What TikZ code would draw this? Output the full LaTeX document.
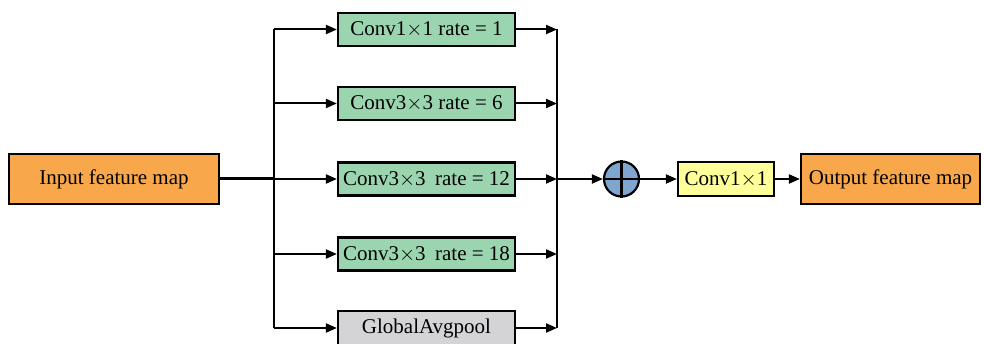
\documentclass[tikz,border=0pt]{standalone}
\usepackage{fontspec}
\setmainfont{Liberation Serif}
\usetikzlibrary{arrows.meta}
\definecolor{featorange}{HTML}{F9A74B}
\definecolor{convgreen}{HTML}{9BD5AF}
\definecolor{poolgray}{HTML}{D4D4D6}
\definecolor{mixyellow}{HTML}{FFFF99}
\definecolor{sumblue}{HTML}{7FA6CE}
\newcommand{\widegap}{\hspace{0.45em}}
\newcommand{\kx}{\ensuremath{\times}}
\begin{document}
\begin{tikzpicture}[x=1pt,y=-1pt,
  every node/.style={font=\fontsize{21}{25}\selectfont, inner sep=0pt},
  boxbase/.style={draw=black, line width=2.2pt, anchor=center},
  featbox/.style={boxbase, fill=featorange, minimum width=210pt, minimum height=50pt},
  branchbox/.style={boxbase, fill=convgreen, minimum width=177pt, minimum height=33pt},
  poolbox/.style={boxbase, fill=poolgray, minimum width=177pt, minimum height=34pt},
  mixbox/.style={boxbase, fill=mixyellow, minimum width=96pt, minimum height=34pt},
  sumnode/.style={draw=black, line width=2.2pt, fill=sumblue, circle, minimum size=35pt},
  link/.style={line width=2pt},
  flow/.style={link, -{Triangle[length=11pt,width=9pt]}}
]
\useasboundingbox (0,0) rectangle (984,344);

% input and output feature maps
\node[featbox] (in) at (114,179) {Input feature map};
\node[featbox, minimum width=179pt] (out) at (890.5,179) {Output feature map};

% parallel branches
\node[branchbox] (b1) at (426.5,29.5) {Conv1\kx1 rate = 1};
\node[branchbox] (b2) at (426.5,103.5) {Conv3\kx3 rate = 6};
\node[branchbox] (b3) at (426.5,179) {Conv3\kx3\widegap rate = 12};
\node[branchbox] (b4) at (426.5,254) {Conv3\kx3\widegap rate = 18};
\node[poolbox] (b5) at (426.5,328) {GlobalAvgpool};

% fusion
\node[sumnode] (sum) at (621.5,179) {};
\draw[line width=2.2pt] (sum.north) -- (sum.south) (sum.west) -- (sum.east);
\node[mixbox] (mix) at (726,179) {Conv1\kx1};

% distribution trunk
\coordinate (t1) at (274,29.5);
\coordinate (t2) at (274,103.5);
\coordinate (t3) at (274,179);
\coordinate (t4) at (274,254);
\coordinate (t5) at (274,328);
\draw[line width=3pt] (in.east) -- (t3);
\draw[link] (t1) -- (t5);
\foreach \i in {1,...,5} \draw[flow] (t\i) -- (b\i.west);

% collector trunk
\coordinate (c1) at (557,29.5);
\coordinate (c2) at (557,103.5);
\coordinate (c3) at (557,179);
\coordinate (c4) at (557,254);
\coordinate (c5) at (557,328);
\draw[link] (c1) -- (c5);
\foreach \i in {1,...,5} \draw[flow] (b\i.east) -- (c\i);

\draw[flow] (c3) -- (sum.west);
\draw[flow] (sum.east) -- (mix.west);
\draw[flow] (mix.east) -- (out.west);
\end{tikzpicture}
\end{document}
